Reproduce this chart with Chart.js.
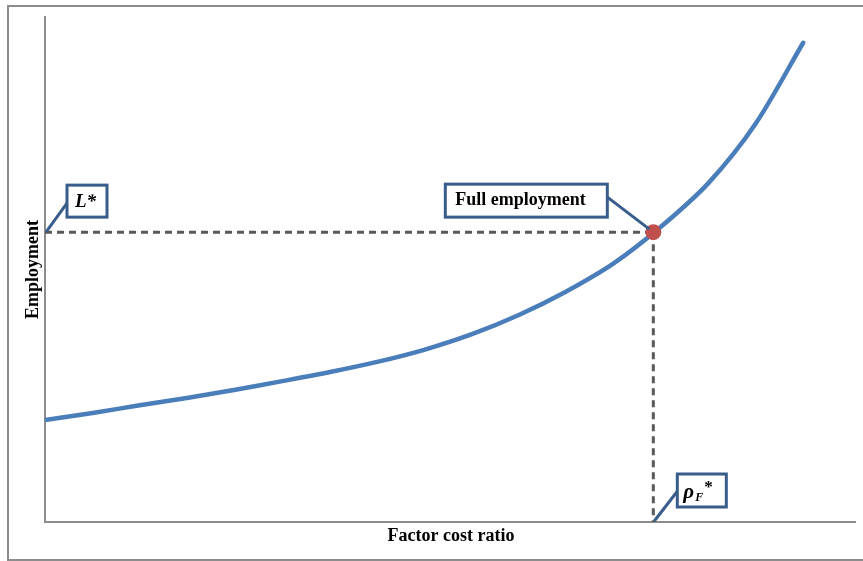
<!DOCTYPE html>
<html lang="en">
<head>
  <meta charset="UTF-8">
  <title>Employment vs factor cost ratio</title>
  <script src="https://cdn.jsdelivr.net/npm/chart.js"></script>
  <style>
    * { box-sizing: border-box; margin: 0; padding: 0; }
    body { background: #fff; width: 863px; height: 561px; overflow: hidden; }
    .frame {
      position: absolute;
      left: 7px; top: 5px;
      width: 870px; height: 556px;
      border: 2px solid #8c8c8c;
      border-right: none;
    }
    #wrap { position: absolute; left: 0; top: 0; width: 863px; height: 561px; }
  </style>
</head>
<body>
<div class="frame"></div>
<div id="wrap"><canvas id="chart"></canvas></div>

<script>
  // curve: factor cost ratio (x) vs employment (y), arbitrary 0-100 units
  const ratio = [0, 5.9, 11.7, 17.7, 23.5, 29.3, 35.2, 41.0, 46.8, 52.7, 58.5, 64.3, 70.2, 76.0, 81.9, 87.7, 93.6];
  const employment = [20.2, 21.6, 23.1, 24.6, 26.2, 27.9, 29.7, 31.7, 34.1, 37.2, 41.0, 45.6, 51.2, 58.4, 67.1, 78.8, 94.9];

  // full employment point
  const rhoF = 75.1;
  const lStar = 57.4;

  const xTitle = 'Factor cost ratio';
  const yTitle = 'Employment';

  const curve = ratio.map((r, i) => ({ x: r, y: employment[i] }));

  const serif = '"Liberation Serif", "DejaVu Serif", serif';
  const boxBlue = '#385d8a';

  function callout(ctx, anchor, from, box, draw) {
    ctx.save();
    ctx.strokeStyle = boxBlue;
    ctx.lineWidth = 3;
    ctx.beginPath();
    ctx.moveTo(anchor.x, anchor.y);
    ctx.lineTo(from.x, from.y);
    ctx.stroke();
    ctx.fillStyle = '#fff';
    ctx.fillRect(box.x, box.y, box.w, box.h);
    ctx.strokeRect(box.x, box.y, box.w, box.h);
    ctx.fillStyle = '#000';
    ctx.textBaseline = 'middle';
    draw(box.x, box.y + box.h / 2);
    ctx.restore();
  }

  const annotations = {
    id: 'annotations',
    afterDatasetsDraw(chart) {
      const ctx = chart.ctx;
      const xs = chart.scales.x, ys = chart.scales.y;
      const px = xs.getPixelForValue(rhoF);
      const py = ys.getPixelForValue(lStar);
      const x0 = xs.getPixelForValue(0);
      const y0 = ys.getPixelForValue(0);

      // L* on the employment axis
      callout(ctx, { x: x0 + 1, y: py }, { x: x0 + 22, y: py - 29 },
        { x: x0 + 22, y: py - 47, w: 40, h: 32 }, (bx, cy) => {
          ctx.font = 'italic bold 19px ' + serif;
          ctx.fillText('L*', bx + 8, cy + 1);
        });

      // Full employment label
      callout(ctx, { x: px - 4, y: py - 3 }, { x: px - 46, y: py - 35 },
        { x: px - 208, y: py - 48, w: 162, h: 33 }, (bx, cy) => {
          ctx.font = 'bold 18px ' + serif;
          ctx.fillText('Full employment', bx + 10, cy);
        });

      // rho_F* on the factor cost axis
      callout(ctx, { x: px + 1, y: y0 - 1 }, { x: px + 25, y: y0 - 32 },
        { x: px + 24, y: y0 - 48, w: 49, h: 33 }, (bx, cy) => {
          ctx.font = 'italic bold 21px ' + serif;
          ctx.fillText('\u03c1', bx + 6, cy + 2);
          ctx.font = 'italic bold 12px ' + serif;
          ctx.fillText('F', bx + 18, cy + 7);
          ctx.font = 'bold 17px ' + serif;
          ctx.fillText('*', bx + 27, cy - 3);
        });

      // axis titles
      ctx.save();
      ctx.fillStyle = '#000';
      ctx.font = 'bold 18px ' + serif;
      ctx.textAlign = 'center';
      ctx.textBaseline = 'middle';
      ctx.fillText(xTitle, (chart.chartArea.left + chart.chartArea.right) / 2 + 1, y0 + 14);
      ctx.translate(33, (chart.chartArea.top + chart.chartArea.bottom) / 2);
      ctx.rotate(-Math.PI / 2);
      ctx.fillText(yTitle, 0, 0);
      ctx.restore();
    }
  };

  new Chart(document.getElementById('chart'), {
    type: 'line',
    data: {
      datasets: [
        {
          label: 'L*',
          data: [{ x: 0, y: lStar }, { x: rhoF, y: lStar }],
          borderColor: '#595959', borderWidth: 3, borderDash: [7, 5],
          pointRadius: 0, order: 3
        },
        {
          label: 'rhoF*',
          data: [{ x: rhoF, y: lStar }, { x: rhoF, y: 0 }],
          borderColor: '#595959', borderWidth: 3, borderDash: [7, 5],
          pointRadius: 0, order: 3
        },
        {
          label: 'Employment',
          data: curve,
          borderColor: '#4a7ebb', borderWidth: 4.5,
          borderCapStyle: 'round', borderJoinStyle: 'round',
          pointRadius: 0, tension: 0.3, order: 2
        },
        {
          label: 'Full employment',
          data: [{ x: rhoF, y: lStar }],
          showLine: false,
          pointRadius: 8, pointBorderWidth: 0,
          pointBackgroundColor: '#c0504d', pointBorderColor: '#c0504d',
          order: 1
        }
      ]
    },
    options: {
      responsive: true,
      maintainAspectRatio: false,
      animation: false,
      layout: { padding: { left: 45, top: 17, right: 7, bottom: 39 } },
      plugins: { legend: { display: false }, tooltip: { enabled: false } },
      scales: {
        x: {
          type: 'linear', min: 0, max: 100,
          ticks: { display: false },
          grid: { display: false, drawTicks: false },
          border: { display: true, color: '#8c8c8c', width: 2 }
        },
        y: {
          min: 0, max: 100,
          ticks: { display: false },
          grid: { display: false, drawTicks: false },
          border: { display: true, color: '#8c8c8c', width: 2 }
        }
      }
    },
    plugins: [annotations]
  });
</script>
</body>
</html>
